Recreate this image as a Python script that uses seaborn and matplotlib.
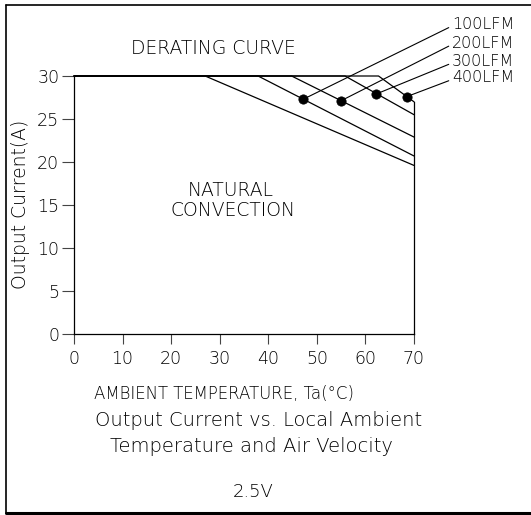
import matplotlib
matplotlib.use("Agg")
import matplotlib.pyplot as plt
from matplotlib.lines import Line2D
import pandas as pd
import seaborn as sns

# Derating curves: full current up to the knee, then a straight fall to 70 °C
curve_names = ["NATURAL CONVECTION", "100LFM", "200LFM", "300LFM", "400LFM"]
knee_temps = [27.0, 37.9, 44.8, 55.8, 62.7]
end_currents = [19.6, 20.7, 22.9, 25.5, 27.0]
max_current = 30.0
max_temp = 70.0

# Operating points marked on the forced-air curves
point_labels = ["100LFM", "200LFM", "300LFM", "400LFM"]
point_temps = [47.2, 54.9, 62.2, 68.5]
point_currents = [27.3, 27.1, 27.9, 27.6]

x_ticks = [0, 10, 20, 30, 40, 50, 60, 70]
y_ticks = [0, 5, 10, 15, 20, 25, 30]

rows = []
for name, knee, end in zip(curve_names, knee_temps, end_currents):
    rows += [(name, 0.0, max_current), (name, knee, max_current), (name, max_temp, end)]
curves = pd.DataFrame(rows, columns=["curve", "temp", "current"])
points = pd.DataFrame({"label": point_labels, "temp": point_temps, "current": point_currents})

sns.set_style("ticks")
plt.rcParams["font.family"] = ["DejaVu Sans"]
plt.rcParams["font.weight"] = "light"
plt.rcParams["text.color"] = "black"
FS = 12.5

fig = plt.figure(figsize=(5.31, 5.15), dpi=100)
ax = fig.add_axes([74 / 531, 1 - 334 / 515, 340 / 531, 258 / 515])

sns.lineplot(data=curves, x="temp", y="current", units="curve", estimator=None,
             color="black", lw=0.9, sort=False, ax=ax, legend=False)
sns.scatterplot(data=points, x="temp", y="current", color="black", s=45,
                marker="o", edgecolor="black", linewidth=0.5, ax=ax, legend=False, zorder=5)
for ln in ax.lines:
    ln.set_clip_on(False)
for coll in ax.collections:
    coll.set_clip_on(False)

ax.set_xlim(0, max_temp)
ax.set_ylim(0, max_current)
ax.set_xticks(x_ticks)
ax.set_yticks(y_ticks)
ax.set_xticklabels([str(v) for v in x_ticks], fontsize=FS)
ax.set_yticklabels([str(v) for v in y_ticks], fontsize=FS)
ax.tick_params(axis="y", length=8.6, width=0.8, pad=2, color="#444444", labelcolor="black")
ax.tick_params(axis="x", length=7.2, width=0.8, pad=4, color="#444444", labelcolor="black")
ax.set_xlabel("")
ax.set_ylabel("")

for side in ["left", "bottom", "right"]:
    ax.spines[side].set_color("black")
    ax.spines[side].set_linewidth(0.9)
ax.spines["top"].set_visible(False)
ax.spines["right"].set_visible(True)
ax.spines["right"].set_bounds(0, end_currents[-1])

# Leader lines from each marked point to its airflow label
label_y_px = [24.5, 43.0, 61.5, 78.0]
for lab, tx, cy, ypx in zip(point_labels, point_temps, point_currents, label_y_px):
    ax.annotate(lab, xy=(tx, cy), xytext=(452 / 531, 1 - ypx / 515),
                textcoords="figure fraction", ha="left", va="center", fontsize=11.5,
                annotation_clip=False,
                arrowprops=dict(arrowstyle="-", lw=0.8, color="black",
                                shrinkA=0, shrinkB=0, relpos=(0, 0.4)))

def ftext(x_px, y_px, s, size=FS, **kw):
    fig.text(x_px / 531, 1 - y_px / 515, s, ha="center", va="center", fontsize=size, **kw)

ftext(213, 49, "DERATING CURVE", size=13.5)
ftext(231, 190, "NATURAL", size=13.5)
ftext(233, 210, "CONVECTION", size=13.5)
ftext(21, 204, "Output Current(A)", size=13.5, rotation=90)
ftext(224, 394, "AMBIENT TEMPERATURE, Ta(°C)", size=12)
ftext(259, 421, "Output Current vs. Local Ambient", size=14)
ftext(251, 447, "Temperature and Air Velocity", size=14)
ftext(253, 492, "2.5V", size=13)

# Page frame
fig.add_artist(Line2D([6 / 531, 6 / 531], [1 - 513 / 515, 1 - 5 / 515],
                      transform=fig.transFigure, color="black", lw=1.2))
fig.add_artist(Line2D([6 / 531, 1.0], [1 - 5 / 515, 1 - 5 / 515],
                      transform=fig.transFigure, color="black", lw=1.2))
fig.add_artist(Line2D([6 / 531, 1.0], [1 - 513 / 515, 1 - 513 / 515],
                      transform=fig.transFigure, color="black", lw=2.2))

fig.savefig("out.png", dpi=100)
